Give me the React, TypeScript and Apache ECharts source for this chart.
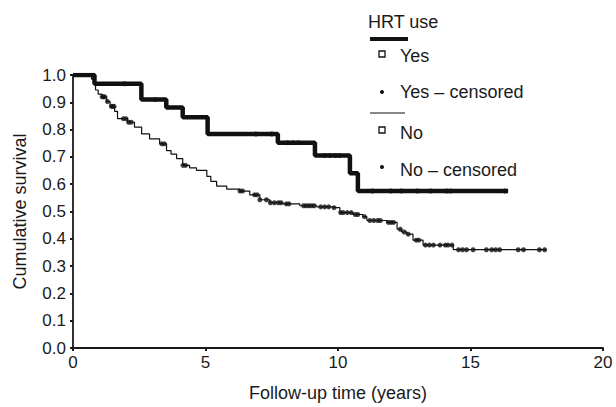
import React, { useEffect, useRef } from "react";
import * as echarts from "echarts";

// Kaplan–Meier steps: time (years) where survival drops, and survival after the drop
const yesTimes = [0, 0.81, 2.58, 3.52, 4.14, 5.08, 7.73, 9.13, 10.45, 10.75, 16.42];
const yesSurv = [1.0, 0.968, 0.91, 0.881, 0.845, 0.784, 0.752, 0.705, 0.64, 0.575, 0.575];
const yesCensored = [1.95, 3.1, 6.9, 7.5, 8.1, 8.3, 8.5, 9.5, 9.7, 9.9, 10.05, 11.3, 12.0, 12.4, 13.0, 13.5, 14.1, 14.25, 16.3];

const noTimes = [0, 0.7, 0.78, 0.85, 0.95, 1.1, 1.27, 1.4, 1.57, 1.68, 2.06, 2.32, 2.59, 2.89, 3.27, 3.53, 3.7, 3.91, 4.14, 4.4, 4.66, 5.05, 5.2, 5.42, 5.8, 6.29, 6.67, 7.05, 7.43, 7.92, 8.56, 9.2, 9.81, 10.07, 10.56, 10.94, 11.09, 11.85, 12.23, 12.4, 12.6, 12.83, 13.21, 14.35, 17.85];
const noSurv = [1.0, 0.985, 0.965, 0.945, 0.93, 0.92, 0.903, 0.885, 0.867, 0.84, 0.827, 0.809, 0.784, 0.766, 0.748, 0.723, 0.71, 0.694, 0.669, 0.66, 0.651, 0.629, 0.61, 0.593, 0.582, 0.575, 0.561, 0.543, 0.532, 0.528, 0.521, 0.517, 0.514, 0.496, 0.489, 0.481, 0.467, 0.46, 0.435, 0.425, 0.417, 0.395, 0.377, 0.36, 0.36];
const noCensored = [1.1, 1.15, 1.2, 1.3, 1.45, 1.5, 1.55, 1.9, 2.0, 2.1, 2.2, 3.35, 3.45, 4.15, 4.25, 6.3, 6.4, 6.85, 6.95, 7.05, 7.3, 7.45, 7.6, 7.75, 7.85, 8.05, 8.15, 8.7, 8.8, 8.9, 9.0, 9.1, 9.35, 9.5, 9.65, 9.85, 10.1, 10.2, 10.35, 10.5, 10.65, 10.75, 11.0, 11.2, 11.35, 11.5, 11.6, 11.9, 12.0, 12.1, 12.35, 12.5, 12.65, 12.95, 13.05, 13.3, 13.45, 13.6, 13.85, 14.05, 14.15, 14.3, 14.55, 14.7, 14.85, 15.1, 15.6, 15.8, 15.95, 16.1, 16.8, 17.0, 17.6, 17.8];

const xTicks = { min: 0, max: 20, interval: 5 };
const yTicks = { min: 0, max: 1, interval: 0.1 };

const FONT = "'Liberation Sans', Arial, Helvetica, sans-serif";
const INK = "#1a1a1a";

function survAt(times: number[], surv: number[], t: number) {
  let s = surv[0];
  for (let i = 0; i < times.length; i++) if (times[i] <= t) s = surv[i];
  return s;
}

export default function App() {
  const ref = useRef<HTMLDivElement>(null);
  useEffect(() => {
    if (!ref.current) return;
    const chart = echarts.init(ref.current, null, { renderer: "svg" });
    const yesLine = yesTimes.map((t, i) => [t, yesSurv[i]]);
    const noLine = noTimes.map((t, i) => [t, noSurv[i]]);
    const yesC = yesCensored.map((t) => [t, survAt(yesTimes, yesSurv, t)]);
    const noC = noCensored.map((t) => [t, survAt(noTimes, noSurv, t)]);
    chart.setOption({
      animation: false,
      textStyle: { fontFamily: FONT, color: INK },
      grid: { left: 73, top: 75, right: 13, bottom: 54, containLabel: false },
      xAxis: {
        type: "value",
        min: xTicks.min,
        max: xTicks.max,
        interval: xTicks.interval,
        name: "Follow-up time (years)",
        nameLocation: "middle",
        nameGap: 36,
        nameTextStyle: { fontSize: 18, color: INK, fontFamily: FONT },
        axisLine: { lineStyle: { color: INK, width: 1.8 } },
        axisTick: { show: true, length: 3, lineStyle: { color: INK, width: 2 } },
        axisLabel: { fontSize: 17, color: INK, margin: 6, fontFamily: FONT },
        splitLine: { show: false },
      },
      yAxis: {
        type: "value",
        min: yTicks.min,
        max: yTicks.max,
        interval: yTicks.interval,
        name: "Cumulative survival",
        nameLocation: "middle",
        nameGap: 44,
        nameTextStyle: { fontSize: 18, color: INK, fontFamily: FONT },
        axisLine: { show: true, lineStyle: { color: INK, width: 1.8 } },
        axisTick: { show: true, length: 3, lineStyle: { color: INK, width: 2 } },
        axisLabel: {
          fontSize: 17,
          color: INK,
          margin: 7,
          fontFamily: FONT,
          formatter: (v: number) => v.toFixed(1),
        },
        splitLine: { show: false },
      },
      series: [
        {
          name: "Yes",
          type: "line",
          step: "end",
          data: yesLine,
          showSymbol: false,
          lineStyle: { color: "#111", width: 4.5 },
          z: 3,
        },
        {
          name: "No",
          type: "line",
          step: "end",
          data: noLine,
          showSymbol: false,
          lineStyle: { color: "#111", width: 1.2 },
          z: 2,
        },
        {
          name: "Yes – censored",
          type: "scatter",
          data: yesC,
          symbol: "circle",
          symbolSize: 5,
          itemStyle: { color: "#111" },
          z: 4,
        },
        {
          name: "No – censored",
          type: "scatter",
          data: noC,
          symbol: "circle",
          symbolSize: 5,
          itemStyle: { color: "#111" },
          z: 4,
        },
      ],
      graphic: [
        { type: "text", left: 368, top: 13, style: { text: "HRT use", fontSize: 18, fill: INK, fontFamily: FONT } },
        { type: "line", shape: { x1: 370, y1: 39, x2: 408, y2: 39 }, style: { stroke: "#111", lineWidth: 4 } },
        { type: "rect", shape: { x: 379, y: 51, width: 6, height: 6 }, style: { fill: "#fff", stroke: "#111", lineWidth: 1.3 } },
        { type: "text", left: 400, top: 47, style: { text: "Yes", fontSize: 18, fill: INK, fontFamily: FONT } },
        { type: "circle", shape: { cx: 382, cy: 92, r: 2 }, style: { fill: "#111" } },
        { type: "text", left: 400, top: 83, style: { text: "Yes – censored", fontSize: 18, fill: INK, fontFamily: FONT } },
        { type: "line", shape: { x1: 370, y1: 113, x2: 405, y2: 113 }, style: { stroke: "#111", lineWidth: 1.2 } },
        { type: "rect", shape: { x: 379, y: 127, width: 6, height: 6 }, style: { fill: "#fff", stroke: "#111", lineWidth: 1.3 } },
        { type: "text", left: 400, top: 124, style: { text: "No", fontSize: 18, fill: INK, fontFamily: FONT } },
        { type: "circle", shape: { cx: 382, cy: 167, r: 2 }, style: { fill: "#111" } },
        { type: "text", left: 400, top: 161, style: { text: "No – censored", fontSize: 18, fill: INK, fontFamily: FONT } },
      ],
    });
    return () => chart.dispose();
  }, []);
  return (
    <div
      ref={ref}
      style={{ position: "absolute", left: 0, top: 0, width: 616, height: 407, background: "#fff" }}
    />
  );
}
